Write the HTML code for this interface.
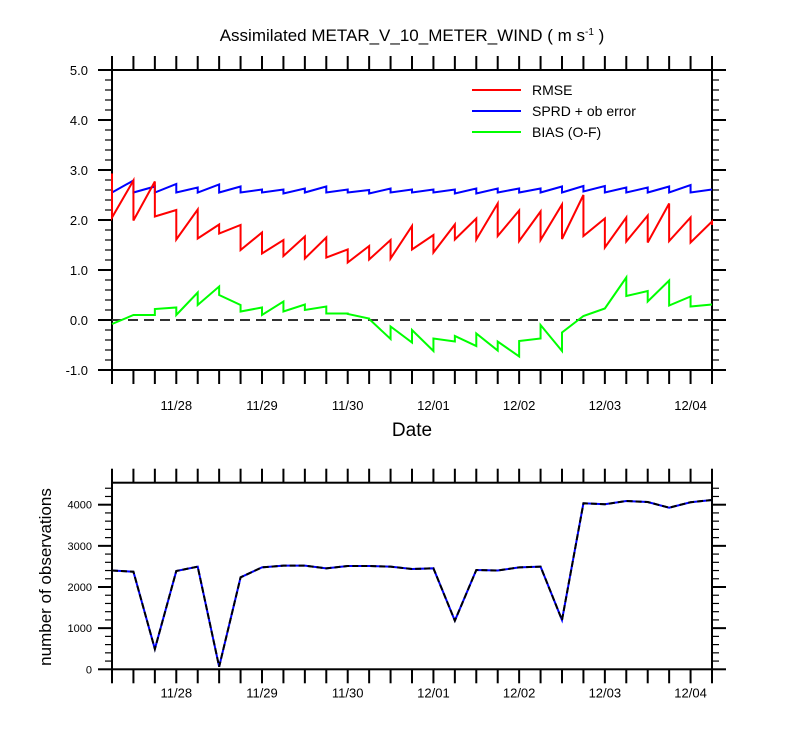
<!DOCTYPE html>
<html><head><meta charset="utf-8"><style>
body{margin:0;background:#fff;}
svg{display:block;font-family:"Liberation Sans",Arial,sans-serif;}
</style></head><body>
<svg id="chart" width="800" height="750" viewBox="0 0 800 750">
<text x="412" y="41" text-anchor="middle" font-size="17">Assimilated METAR_V_10_METER_WIND ( m s<tspan dy="-6" font-size="10">-1</tspan><tspan dy="6"> )</tspan></text>
<g id="topPanel"></g>
<g id="botPanel"></g>
<text x="412" y="436" text-anchor="middle" font-size="19">Date</text>
<text transform="translate(51,577) rotate(-90)" text-anchor="middle" font-size="17">number of observations</text>
<g>
<line x1="472" y1="90" x2="521" y2="90" stroke="#f00" stroke-width="2"/>
<text x="532" y="95" font-size="14">RMSE</text>
<line x1="472" y1="111" x2="521" y2="111" stroke="#00f" stroke-width="2"/>
<text x="532" y="116" font-size="14">SPRD + ob error</text>
<line x1="472" y1="132" x2="521" y2="132" stroke="#0f0" stroke-width="2"/>
<text x="532" y="137" font-size="14">BIAS (O-F)</text>
</g>
</svg>
<script>
const rmsePrior=[2.93,2.79,2.77,2.2,2.21,1.91,1.9,1.75,1.6,1.67,1.65,1.41,1.48,1.6,1.88,1.7,1.91,2.03,2.33,2.19,2.17,2.31,2.5,2.03,2.05,2.09,2.33,2.05,1.97];
const rmsePost=[2.05,1.99,2.07,1.61,1.63,1.73,1.4,1.33,1.28,1.23,1.25,1.15,1.21,1.23,1.41,1.35,1.61,1.61,1.68,1.58,1.6,1.62,1.68,1.45,1.57,1.55,1.58,1.55,1.9];
const sprdPrior=[2.55,2.79,2.67,2.72,2.65,2.71,2.67,2.61,2.61,2.63,2.67,2.61,2.6,2.63,2.61,2.61,2.61,2.63,2.63,2.63,2.63,2.67,2.68,2.68,2.65,2.65,2.67,2.7,2.61];
const sprdPost=[2.55,2.55,2.55,2.55,2.55,2.55,2.55,2.55,2.53,2.55,2.55,2.55,2.53,2.55,2.55,2.55,2.53,2.53,2.55,2.55,2.55,2.55,2.57,2.55,2.55,2.55,2.55,2.55,2.61];
const biasPrior=[-0.08,0.1,0.1,0.25,0.55,0.67,0.3,0.25,0.37,0.31,0.27,0.13,0.03,-0.38,-0.45,-0.62,-0.43,-0.52,-0.61,-0.73,-0.37,-0.62,0.08,0.23,0.85,0.58,0.79,0.47,0.31];
const biasPost=[-0.08,0.1,0.22,0.1,0.3,0.5,0.17,0.1,0.17,0.2,0.13,0.12,0.02,-0.13,-0.2,-0.37,-0.32,-0.27,-0.43,-0.42,-0.1,-0.25,0.08,0.23,0.48,0.37,0.29,0.27,0.31];
const obsPossible=[2400,2372,493,2389,2494,63,2235,2478,2518,2518,2454,2510,2510,2494,2437,2454,1181,2413,2400,2478,2494,1198,4034,4010,4090,4065,3928,4060,4114];
const obsUsed=[2400,2372,493,2389,2494,63,2235,2478,2518,2518,2454,2510,2510,2494,2437,2454,1181,2413,2400,2478,2494,1198,4034,4010,4090,4065,3928,4060,4114];
const dayLabels=["11/28","11/29","11/30","12/01","12/02","12/03","12/04"];
const dayIndex=[3,7,11,15,19,23,27];
const topTicks=[-1,0,1,2,3,4,5];
const botTicks=[0,1000,2000,3000,4000];

const NS="http://www.w3.org/2000/svg";
const X0=112,X1=712,N=28;
const xs=i=>X0+i*(X1-X0)/N;
const yt=v=>320-v*50;
const yb=v=>669.3-v*0.04115;
function mk(p,tag,a){const e=document.createElementNS(NS,tag);for(const k in a)e.setAttribute(k,a[k]);p.appendChild(e);return e;}
const topG=document.getElementById('topPanel'),botG=document.getElementById('botPanel');

function frame(g,yTop,yBot,name){
  const r=mk(g,'rect',{x:X0,y:yTop,width:X1-X0,height:yBot-yTop,fill:'none',stroke:'#000','stroke-width':2});
  
  
  for(let i=0;i<=N;i++){
    const x=xs(i);
    mk(g,'line',{x1:x,y1:yTop,x2:x,y2:yTop-14,stroke:'#000','stroke-width':2});
    mk(g,'line',{x1:x,y1:yBot,x2:x,y2:yBot+14,stroke:'#000','stroke-width':2});
  }
  for(let k=0;k<dayIndex.length;k++){
    const t=mk(g,'text',{x:xs(dayIndex[k]),y:yBot+(name==='top'?40:28),'text-anchor':'middle','font-size':13});
    t.textContent=dayLabels[k];
    
    
  }
}
frame(topG,70,370,'top');
frame(botG,482.7,669.3,'bottom');

for(let v=-1;v<=5.0001;v+=0.2){
  const y=yt(v);const maj=Math.abs(v-Math.round(v))<1e-6;
  const L=maj?14:7;
  mk(topG,'line',{x1:X0,y1:y,x2:X0-L,y2:y,stroke:'#000','stroke-width':maj?2:1.2});
  mk(topG,'line',{x1:X1,y1:y,x2:X1+L,y2:y,stroke:'#000','stroke-width':maj?2:1.2});
}
topTicks.forEach(v=>{
  const t=mk(topG,'text',{x:88,y:yt(v)+5,'text-anchor':'end','font-size':13});
  t.textContent=v.toFixed(1);
  
  
});
for(let v=0;v<=4400;v+=200){
  const y=yb(v);const maj=v%1000===0;const L=maj?14:7;
  mk(botG,'line',{x1:X0,y1:y,x2:X0-L,y2:y,stroke:'#000','stroke-width':maj?2:1.2});
  mk(botG,'line',{x1:X1,y1:y,x2:X1+L,y2:y,stroke:'#000','stroke-width':maj?2:1.2});
}
botTicks.forEach(v=>{
  const t=mk(botG,'text',{x:92,y:yb(v)+4,'text-anchor':'end','font-size':11});
  t.textContent=v;
  
  
});

const z=mk(topG,'line',{x1:X0,y1:yt(0),x2:X1,y2:yt(0),stroke:'#333','stroke-width':2,'stroke-dasharray':'10,6'});



function saw(pr,po,color,name){
  let d='';
  for(let i=0;i<pr.length;i++){
    d+=(i?'L':'M')+xs(i).toFixed(2)+','+yt(pr[i]).toFixed(2)+'L'+xs(i).toFixed(2)+','+yt(po[i]).toFixed(2);
  }
  const p=mk(topG,'path',{d:d,fill:'none',stroke:color,'stroke-width':2});
  
  
}
saw(sprdPrior,sprdPost,'#00f','sprd-line');
saw(rmsePrior,rmsePost,'#f00','rmse-line');
saw(biasPrior,biasPost,'#0f0','bias-line');

function obsLine(arr,color,dash,name){
  const d=arr.map((v,i)=>(i?'L':'M')+xs(i).toFixed(2)+','+yb(v).toFixed(2)).join('');
  const a={d:d,fill:'none',stroke:color,'stroke-width':2};
  if(dash)a['stroke-dasharray']=dash;
  const p=mk(botG,'path',a);
  
  
}
obsLine(obsPossible,'#00f',null,'obs-possible-line');
obsLine(obsUsed,'#000','6,3','obs-used-line');
</script>
</body></html>
